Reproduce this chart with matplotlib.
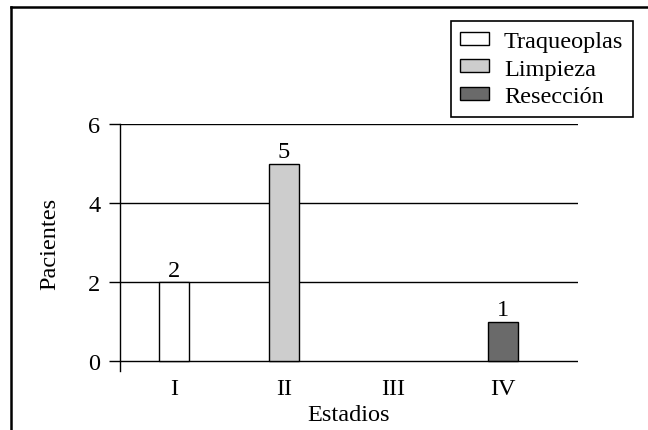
import matplotlib
matplotlib.use('Agg')
import matplotlib.pyplot as plt
from matplotlib.lines import Line2D
import numpy as np

# data
stages = ['I', 'II', 'III', 'IV']
series = ['Traqueoplas', 'Limpieza', 'Resección']
counts = [2, 5, 0, 1]                      # patients per stage
stage_series = [0, 1, None, 2]            # which treatment each stage bar belongs to
colors = ['white', '#cdcdcd', '#6a6a6a']
yticks = [0, 2, 4, 6]

plt.rcParams['font.family'] = ['Liberation Serif', 'DejaVu Serif']
plt.rcParams['font.size'] = 17.5

fig = plt.figure(figsize=(6.48, 4.31), dpi=100)
ax = fig.add_axes([0.1852, 0.1369, 0.7068, 0.5731])

x = np.arange(len(stages))
w = 0.275
handles = {}
for xi, n, s in zip(x, counts, stage_series):
    if s is None or n == 0:
        continue
    b = ax.bar(xi, n, width=w, color=colors[s], edgecolor='black', linewidth=1.0,
               label=series[s], zorder=3)
    handles[s] = b
    ax.annotate(str(n), (xi, n), xytext=(0, 1), textcoords='offset points',
                ha='center', va='bottom')

ax.set_xlim(-0.49, 3.68)
ax.set_ylim(-0.25, 6)
ax.set_xticks(x)
ax.set_xticklabels(stages)
ax.set_yticks(yticks)
ax.tick_params(axis='x', length=0, pad=5)
ax.tick_params(axis='y', length=8, width=1, pad=6, direction='out')

for sp in ['top', 'right', 'bottom']:
    ax.spines[sp].set_visible(False)
ax.spines['left'].set_linewidth(1)
ax.yaxis.grid(True, color='black', linewidth=1)
ax.set_axisbelow(True)

ax.set_ylabel('Pacientes')
ax.yaxis.set_label_coords(-0.131, 0.52)
ax.set_xlabel('Estadios')
ax.xaxis.set_label_coords(0.5, -0.135)

# legend in the top right corner of the figure
hs = [handles[k] for k in sorted(handles)]
leg = fig.legend(hs, [series[k] for k in sorted(handles)], loc='upper right',
                 bbox_to_anchor=(0.977, 0.949), bbox_transform=fig.transFigure,
                 borderaxespad=0, fancybox=False, edgecolor='black', framealpha=1,
                 handlelength=1.2, handleheight=0.45, handletextpad=0.6,
                 labelspacing=0.28, borderpad=0.4)
leg.get_frame().set_linewidth(1.2)

# frame lines of the original scan
fig.add_artist(Line2D([11/648, 1], [1-8/431, 1-8/431], color='black', linewidth=1.8))
fig.add_artist(Line2D([11/648, 11/648], [0, 1-8/431], color='black', linewidth=1.8))

fig.savefig('out.png', dpi=100)
